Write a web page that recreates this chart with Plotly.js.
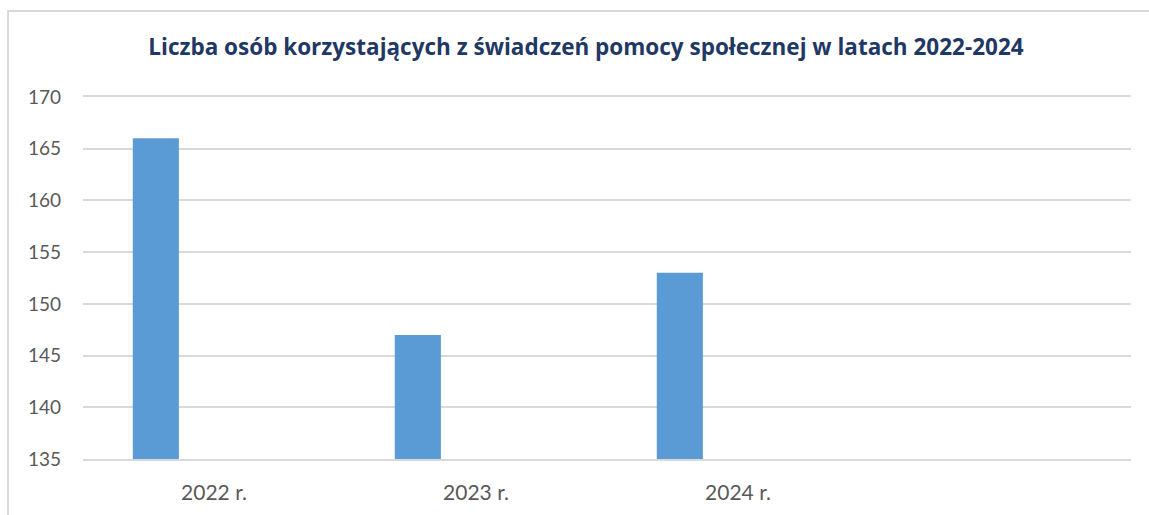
<!DOCTYPE html>
<html>
<head>
<meta charset="utf-8">
<script src="https://cdn.plot.ly/plotly-3.0.1.min.js"></script>
<style>
html,body{margin:0;padding:0;background:#fff;overflow:hidden;}
#frame{position:absolute;left:7px;top:10px;width:1200px;height:600px;border-left:2px solid #d9d9d9;border-top:2px solid #d9d9d9;box-sizing:border-box;}
#chart{position:absolute;left:0;top:0;width:1149px;height:515px;}
</style>
</head>
<body>
<div id="frame"></div>
<div id="chart"></div>
<script>
const categories = ["2022 r.", "2023 r.", "2024 r.", " "];
const years = ["2022 r.", "2023 r.", "2024 r."];
const values = [166, 147, 153];
const yTicks = [135, 140, 145, 150, 155, 160, 165, 170];
const titleText = "Liczba osób korzystających z świadczeń pomocy społecznej w latach 2022-2024";

const trace = {
  type: "bar",
  x: years,
  y: values,
  marker: {color: "#5b9bd5"},
  width: 0.176,
  offset: -0.31,
  hoverinfo: "x+y"
};

const layout = {
  width: 1149, height: 515,
  margin: {l: 83, r: 18, t: 97, b: 56},
  paper_bgcolor: "rgba(0,0,0,0)",
  plot_bgcolor: "rgba(0,0,0,0)",
  showlegend: false,
  title: {
    text: "<b>" + titleText + "</b>",
    font: {family: "'Open Sans', sans-serif", size: 22.5, color: "#1f3864"},
    x: 0.51, xanchor: "center",
    y: 0.909, yanchor: "middle"
  },
  xaxis: {
    type: "category",
    categoryorder: "array",
    categoryarray: categories,
    range: [-0.5, 3.5],
    showgrid: false,
    showline: true, mirror: true, linecolor: "#d9d9d9", linewidth: 2,
    ticks: "",
    ticklabelstandoff: 14,
    tickfont: {family: "Lato, sans-serif", size: 21, color: "#595959"},
    fixedrange: true
  },
  yaxis: {
    range: [135, 170],
    tickmode: "array",
    tickvals: yTicks,
    showgrid: true, gridcolor: "#d9d9d9", gridwidth: 2,
    zeroline: false,
    showline: false,
    ticks: "",
    ticklabelstandoff: 21,
    tickfont: {family: "Lato, sans-serif", size: 19, color: "#595959"},
    fixedrange: true
  }
};

Plotly.newPlot("chart", [trace], layout, {displayModeBar: false, staticPlot: true});
</script>
</body>
</html>
